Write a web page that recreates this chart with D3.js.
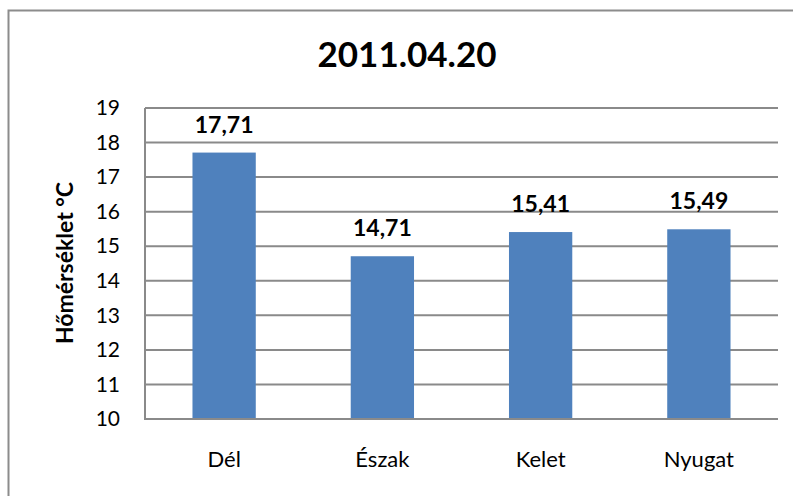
<!DOCTYPE html>
<html>
<head>
<meta charset="utf-8">
<script src="https://cdn.jsdelivr.net/npm/d3@7"></script>
<style>
  body { margin: 0; background: #fff; }
  svg { display: block; }
</style>
</head>
<body>
<svg></svg>
<script>
let categories = ['Dél', 'Észak', 'Kelet', 'Nyugat']
let values = [17.71, 14.71, 15.41, 15.49]
let yTicks = [10, 11, 12, 13, 14, 15, 16, 17, 18, 19]

let width = 793
let height = 496
let plot = { left: 145, right: 778, top: 108, bottom: 419 }
let font = 'Lato, "Open Sans", sans-serif'

let svg = d3.select('svg')
  .attr('width', width)
  .attr('height', height)
  .style('font-family', font)

// chart frame
svg.append('rect')
  .attr('x', 8.5)
  .attr('y', 10.5)
  .attr('width', width)
  .attr('height', height)
  .attr('fill', '#fff')
  .attr('stroke', '#8c8c8c')
  .attr('stroke-width', 2)

let xScale = d3.scaleBand()
  .domain(categories)
  .range([plot.left, plot.right])
  .paddingInner(0.6)
  .paddingOuter(0.3)

let yScale = d3.scaleLinear()
  .domain([10, 19])
  .range([plot.bottom, plot.top])

// gridlines
svg.append('g')
  .selectAll('line')
  .data(yTicks)
  .enter()
  .append('line')
  .attr('x1', plot.left)
  .attr('x2', plot.right)
  .attr('y1', (d) => yScale(d))
  .attr('y2', (d) => yScale(d))
  .attr('stroke', '#8a8a8a')
  .attr('stroke-width', 2)

// y axis labels
let yAxis = d3.axisLeft(yScale)
  .tickValues(yTicks)
  .tickSize(0)
  .tickPadding(25)
  .tickFormat(d3.format('d'))

let yG = svg.append('g')
  .attr('transform', 'translate(' + plot.left + ', 0)')
  .call(yAxis)
yG.select('.domain').remove()
yG.selectAll('text')
  .style('font-family', font)
  .style('font-size', '21px')
  .attr('fill', '#000')

// x axis labels
let xAxis = d3.axisBottom(xScale)
  .tickSize(0)
  .tickPadding(32)

let xG = svg.append('g')
  .attr('transform', 'translate(0, ' + plot.bottom + ')')
  .call(xAxis)
xG.select('.domain').remove()
xG.selectAll('text')
  .style('font-family', font)
  .style('font-size', '22px')
  .attr('fill', '#000')

// bars
svg.selectAll('.bar')
  .data(values)
  .enter()
  .append('rect')
  .attr('class', 'bar')
  .attr('x', (d, i) => xScale(categories[i]))
  .attr('y', (d) => yScale(d))
  .attr('width', xScale.bandwidth())
  .attr('height', (d) => plot.bottom - yScale(d))
  .attr('fill', '#4f81bd')

// plot area border (left, bottom)
svg.append('path')
  .attr('d', 'M' + plot.left + ',' + plot.top + 'V' + plot.bottom + 'H' + plot.right)
  .attr('fill', 'none')
  .attr('stroke', '#8a8a8a')
  .attr('stroke-width', 2)

// value labels
svg.selectAll('.val')
  .data(values)
  .enter()
  .append('text')
  .attr('class', 'val')
  .attr('x', (d, i) => xScale(categories[i]) + xScale.bandwidth() / 2)
  .attr('y', (d) => yScale(d) - 20)
  .attr('text-anchor', 'middle')
  .style('font-size', '23px')
  .style('font-weight', 'bold')
  .text((d) => d3.format('.2f')(d).replace('.', ','))

// title
svg.append('text')
  .attr('x', 407)
  .attr('y', 67)
  .attr('text-anchor', 'middle')
  .style('font-size', '35px')
  .style('font-weight', 'bold')
  .text('2011.04.20')

// y axis title
svg.append('text')
  .attr('transform', 'translate(73, 263) rotate(-90)')
  .attr('text-anchor', 'middle')
  .style('font-size', '23px')
  .style('font-weight', 'bold')
  .text('Hőmérséklet °C')
</script>
</body>
</html>
